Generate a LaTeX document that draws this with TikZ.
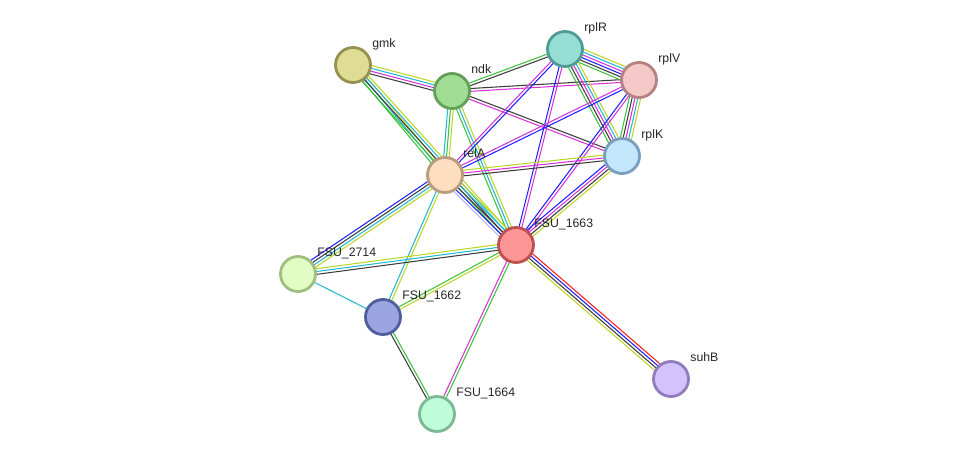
\documentclass[tikz,border=0pt]{standalone}
\usepackage{fontspec}
\setmainfont{Liberation Sans}
\usetikzlibrary{calc, backgrounds}
\definecolor{nbhood}{RGB}{61, 194, 61}
\definecolor{fusion}{RGB}{255, 30, 30}
\definecolor{cooc}{RGB}{30, 30, 255}
\definecolor{coexp}{RGB}{60, 60, 60}
\definecolor{exper}{RGB}{214, 50, 214}
\definecolor{dbase}{RGB}{34, 184, 210}
\definecolor{tmine}{RGB}{190, 212, 40}
\definecolor{homol}{RGB}{180, 180, 255}
\tikzset{
  prot/.style={circle, minimum size=0.7cm, inner sep=0pt, line width=1.6pt},
  lbl/.style={font=\fontsize{7}{8}\selectfont, text=black!85, inner sep=0pt, anchor=base west},
  link/.style={line width=0.6pt},
}
\newcommand{\nlines}{0}
\newcommand{\linkset}[3]{%
  \xdef\nlines{0}%
  \foreach \c in {#3}{\pgfmathtruncatemacro\k{\nlines+1}\xdef\nlines{\k}}%
  \foreach \c [count=\i] in {#3}{%
    \pgfmathsetmacro\off{(\i-(\nlines+1)/2)*1.6}%
    \draw[link, draw=\c] ($(#1.center)!\off pt!90:(#2.center)$) -- ($(#2.center)!\off pt!-90:(#1.center)$);
  }%
}

\begin{document}
\begin{tikzpicture}[x=0.02cm, y=-0.02cm]
  \useasboundingbox (0,0) rectangle (975,460);
  \node[prot, fill={rgb,255:red,223;green,220;blue,150}, draw={rgb,255:red,150;green,145;blue,80}] (gmk) at (353,65) {};
  \node[prot, fill={rgb,255:red,160;green,222;blue,150}, draw={rgb,255:red,100;green,160;blue,90}] (ndk) at (452,91) {};
  \node[prot, fill={rgb,255:red,150;green,222;blue,212}, draw={rgb,255:red,80;green,155;blue,150}] (rplR) at (565,49) {};
  \node[prot, fill={rgb,255:red,245;green,200;blue,200}, draw={rgb,255:red,180;green,130;blue,130}] (rplV) at (639,80) {};
  \node[prot, fill={rgb,255:red,195;green,230;blue,250}, draw={rgb,255:red,120;green,160;blue,190}] (rplK) at (622,156) {};
  \node[prot, fill={rgb,255:red,253;green,222;blue,192}, draw={rgb,255:red,185;green,155;blue,125}] (relA) at (445,175) {};
  \node[prot, fill={rgb,255:red,252;green,150;blue,150}, draw={rgb,255:red,190;green,80;blue,80}] (fsu1663) at (516,245) {};
  \node[prot, fill={rgb,255:red,225;green,253;blue,195}, draw={rgb,255:red,160;green,190;blue,130}] (fsu2714) at (298,274) {};
  \node[prot, fill={rgb,255:red,155;green,165;blue,225}, draw={rgb,255:red,80;green,95;blue,155}] (fsu1662) at (383,317) {};
  \node[prot, fill={rgb,255:red,190;green,253;blue,215}, draw={rgb,255:red,125;green,185;blue,150}] (fsu1664) at (437,414) {};
  \node[prot, fill={rgb,255:red,210;green,195;blue,252}, draw={rgb,255:red,145;green,125;blue,190}] (suhB) at (671,379) {};

  \node[lbl] (gmk-t) at ([shift={(19,-18)}]gmk.center) {gmk};
  \node[lbl] (ndk-t) at ([shift={(19,-18)}]ndk.center) {ndk};
  \node[lbl] (rplR-t) at ([shift={(19,-18)}]rplR.center) {rplR};
  \node[lbl] (rplV-t) at ([shift={(19,-18)}]rplV.center) {rplV};
  \node[lbl] (rplK-t) at ([shift={(19,-18)}]rplK.center) {rplK};
  \node[lbl] (relA-t) at ([shift={(18,-18)}]relA.center) {relA};
  \node[lbl] (fsu1663-t) at ([shift={(18,-18)}]fsu1663.center) {FSU\_1663};
  \node[lbl] (fsu2714-t) at ([shift={(19,-18)}]fsu2714.center) {FSU\_2714};
  \node[lbl] (fsu1662-t) at ([shift={(19,-18)}]fsu1662.center) {FSU\_1662};
  \node[lbl] (fsu1664-t) at ([shift={(19,-18)}]fsu1664.center) {FSU\_1664};
  \node[lbl] (suhB-t) at ([shift={(19,-18)}]suhB.center) {suhB};

  \begin{pgfonlayer}{background}
    \linkset{gmk}{ndk}{coexp,exper,dbase,tmine}
    \linkset{gmk}{relA}{nbhood,dbase,tmine}
    \linkset{gmk}{fsu1663}{nbhood,coexp,dbase,tmine}
    \linkset{ndk}{rplR}{coexp,nbhood}
    \linkset{ndk}{rplV}{exper,coexp}
    \linkset{ndk}{rplK}{exper,coexp}
    \linkset{ndk}{relA}{dbase,nbhood,tmine}
    \linkset{ndk}{fsu1663}{nbhood,dbase,tmine}
    \linkset{rplR}{rplV}{nbhood,coexp,cooc,exper,dbase,tmine}
    \linkset{rplR}{rplK}{nbhood,coexp,exper,dbase,tmine}
    \linkset{rplR}{relA}{exper,cooc}
    \linkset{rplR}{fsu1663}{cooc,exper}
    \linkset{rplV}{rplK}{nbhood,coexp,exper,dbase,tmine}
    \linkset{rplV}{relA}{exper,cooc}
    \linkset{rplV}{fsu1663}{cooc,exper}
    \linkset{rplK}{relA}{tmine,exper,coexp}
    \linkset{rplK}{fsu1663}{cooc,exper,coexp,tmine}
    \linkset{relA}{fsu1663}{homol,cooc,coexp,dbase,tmine}
    \linkset{relA}{fsu2714}{cooc,coexp,dbase,tmine}
    \linkset{relA}{fsu1662}{dbase,tmine}
    \linkset{fsu1663}{fsu2714}{tmine,dbase,coexp}
    \linkset{fsu2714}{fsu1662}{dbase}
    \linkset{fsu1663}{fsu1662}{nbhood,tmine}
    \linkset{fsu1663}{fsu1664}{exper,nbhood}
    \linkset{fsu1662}{fsu1664}{coexp,nbhood}
    \linkset{fsu1663}{suhB}{tmine,coexp,cooc,fusion}
  \end{pgfonlayer}
\end{tikzpicture}
\end{document}
